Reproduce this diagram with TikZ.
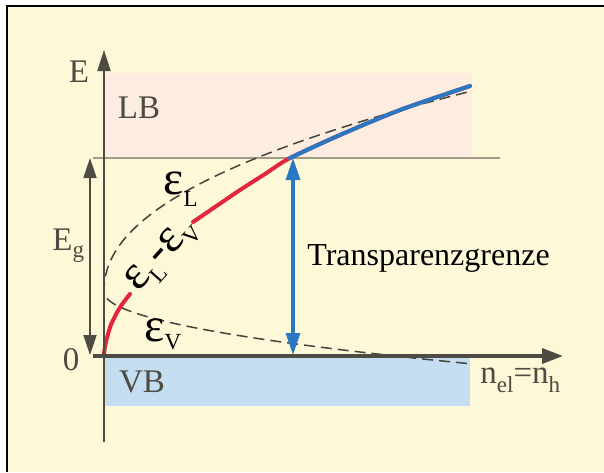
\documentclass[tikz,border=0pt]{standalone}
\usepackage{fontspec}
\setmainfont{Liberation Serif}
\usetikzlibrary{arrows.meta}
\definecolor{bgc}{HTML}{FDF8D8}
\definecolor{lbc}{HTML}{FCEDE0}
\definecolor{vbc}{HTML}{C4DDF0}
\definecolor{axc}{HTML}{4E4B42}
\definecolor{lvl}{HTML}{A09C88}
\definecolor{redc}{HTML}{E3263D}
\definecolor{bluec}{HTML}{2A78C2}
\definecolor{dashc}{HTML}{45433B}
\newcommand{\lsub}[2]{\raisebox{-#2}{\fontsize{11.5}{12}\selectfont #1}}
\begin{document}
\begin{tikzpicture}[x=0.5pt,y=-0.5pt,
  graylbl/.style={text=axc, font=\fontsize{16.5}{18}\selectfont, inner sep=0pt},
  blklbl/.style={text=black, font=\fontsize{16}{18}\selectfont, inner sep=0pt},
  epslbl/.style={text=black, font=\fontsize{24}{26}\selectfont, inner sep=0pt},
  axisline/.style={draw=axc},
  dashcurve/.style={draw=dashc, line width=0.75pt, dash pattern=on 5.5pt off 3pt},
  bandcurve/.style={line width=2pt, line cap=round}]
\useasboundingbox (0,0) rectangle (604,472);
% background and frame
\fill[white] (0,0) rectangle (604,472);
\fill[bgc] (7,6) rectangle (604,472);
\draw[black, line width=1pt] (7,472) -- (7,6) -- (604,6);
% bands
\fill[lbc] (104,73) rectangle (472,158);
\fill[vbc] (104,356) rectangle (470,406);
% level line of E_g
\coordinate (lvlL) at (93,158);
\coordinate (lvlR) at (500,158);
\draw[lvl, line width=0.9pt] (lvlL) -- (lvlR);
% dashed dispersion curves eps_V and eps_L
\draw[dashcurve] plot[domain=19.05:0.05, samples=60] ({104+\x*\x},{292+3.75*\x})
   -- plot[domain=0.05:19.05, samples=90] ({104+\x*\x},{292-13.2*pow(\x,0.922)});
% red curve eps_L - eps_V
\draw[redc, bandcurve] plot[smooth] coordinates {(104,355) (104.6,349) (106.7,339) (110.5,326) (116.7,313) (123,303) (130,294)};
\draw[redc, bandcurve] plot[smooth] coordinates {(193,222) (215,207) (240,190) (265,174) (290,158) (340,135) (400,110) (470,86)};
\draw[bluec, bandcurve] plot[smooth] coordinates {(290,158) (340,135) (400,110) (470,86)};
% axes
\coordinate (eBot) at (104,442);
\coordinate (eTop) at (104,50);
\coordinate (nL) at (93,356);
\coordinate (nR) at (563,356);
\draw[axisline, line width=1pt, -{Triangle[length=10.5pt,width=6.5pt]}] (eBot) -- (eTop);
\draw[axisline, line width=1.75pt, -{Triangle[length=10.5pt,width=7.5pt]}] (nL) -- (nR);
% E_g arrow
\coordinate (gTop) at (90,158);
\coordinate (gBot) at (90,355);
\draw[axisline, line width=0.9pt, {Triangle[length=10pt,width=6.5pt]}-{Triangle[length=10pt,width=6.5pt]}] (gTop) -- (gBot);
% transparency arrow
\coordinate (tTop) at (293,158);
\coordinate (tBot) at (293,355);
\draw[bluec, line width=1.6pt, {Triangle[length=11pt,width=7pt]}-{Triangle[length=11pt,width=7pt]}] (tTop) -- (tBot);
% labels
\node[graylbl, anchor=base] (lE) at (79,82) {E};
\node[graylbl, anchor=base] (lLB) at (139,118) {LB};
\node[graylbl, anchor=base] (lVB) at (142,392) {VB};
\node[graylbl, anchor=base] (l0) at (71,370) {0};
\node[graylbl, anchor=base west] (lEg) at (52,250) {E\lsub{g}{3.5pt}};
\node[graylbl, anchor=base west] (lN) at (480,383) {n\lsub{el}{4.5pt}=n\lsub{h}{4.5pt}};
\node[blklbl, anchor=base west] (lT) at (307,265) {Transparenzgrenze};
\node[epslbl, anchor=base west] (lEL) at (163,194) {ε\lsub{L}{6pt}};
\node[epslbl, anchor=base west] (lEV) at (144,341) {ε\lsub{V}{4pt}};
\node[epslbl, rotate=48] (lDiff) at (163,256) {ε\lsub{L}{5pt}-ε\lsub{V}{5pt}};
\end{tikzpicture}
\end{document}
